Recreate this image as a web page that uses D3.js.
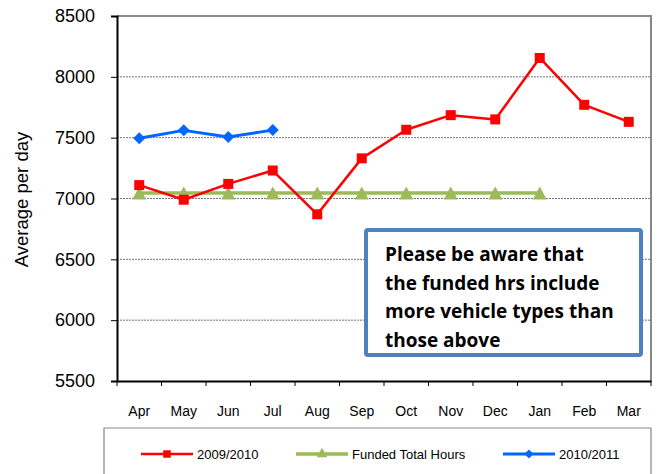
<!DOCTYPE html>
<html>
<head>
<meta charset="utf-8">
<script src="https://cdn.jsdelivr.net/npm/d3@7"></script>
<style>
  html, body { margin: 0; padding: 0; background: #fff; }
  svg { display: block; font-family: Arial, "Liberation Sans", sans-serif; }
</style>
</head>
<body>
<svg id="chart" width="658" height="474"></svg>
<script>
// Monthly average per day
const months = ["Apr", "May", "Jun", "Jul", "Aug", "Sep", "Oct", "Nov", "Dec", "Jan", "Feb", "Mar"];
const yTicks = [5500, 6000, 6500, 7000, 7500, 8000, 8500];
const series0910 = [7110, 6990, 7120, 7230, 6870, 7330, 7565, 7685, 7650, 8155, 7770, 7630];
const seriesFunded = [7045, 7045, 7045, 7045, 7045, 7045, 7045, 7045, 7045, 7045, null, null];
const series1011 = [7495, 7560, 7505, 7562, null, null, null, null, null, null, null, null];
const seriesNames = ["2009/2010", "Funded Total Hours", "2010/2011"];
const noteLines = ["Please be aware that", "the funded hrs include", "more vehicle types than", "those above"];

const svg = d3.select("#chart");
const plot = { left: 117, right: 651, top: 16, bottom: 381 };

const x = d3.scaleBand().domain(months).range([plot.left, plot.right]).padding(0);
const y = d3.scaleLinear().domain([5500, 8500]).range([plot.bottom, plot.top]);
const cx = m => x(m) + x.bandwidth() / 2;

// Marker shapes (w = full width)
const markerPath = {
  square: w => `M${-w / 2},${-w / 2}h${w}v${w}h${-w}Z`,
  diamond: w => `M0,${-w / 2}L${w / 2},0L0,${w / 2}L${-w / 2},0Z`,
  triangle: w => `M0,${-w * 0.46}L${w / 2},${w * 0.46}L${-w / 2},${w * 0.46}Z`
};

// Gridlines
svg.append("g").selectAll("line")
  .data(yTicks.filter(t => t > 5500 && t < 8500))
  .join("line")
  .attr("x1", plot.left).attr("x2", plot.right)
  .attr("y1", d => y(d)).attr("y2", d => y(d))
  .attr("stroke", "#777").attr("stroke-width", 1)
  .attr("stroke-dasharray", "2,1");

// Plot frame: grey top/right
svg.append("path")
  .attr("d", `M${plot.left},${plot.top}H${plot.right}V${plot.bottom}`)
  .attr("fill", "none").attr("stroke", "#888").attr("stroke-width", 2);

// Y axis
const yAxis = svg.append("g")
  .attr("transform", `translate(${plot.left},0)`)
  .call(d3.axisLeft(y).tickValues(yTicks).tickSize(6).tickPadding(16).tickFormat(d3.format("d")));
yAxis.select(".domain").attr("stroke", "#000").attr("stroke-width", 2);
yAxis.selectAll(".tick line").attr("stroke", "#000");
yAxis.selectAll("text").attr("font-size", 18).attr("fill", "#000");

// X axis: ticks at band boundaries
const xAxis = svg.append("g")
  .attr("transform", `translate(0,${plot.bottom})`)
  .call(d3.axisBottom(x).tickSize(0).tickPadding(25));
xAxis.select(".domain").attr("stroke", "#000").attr("stroke-width", 2);
xAxis.selectAll("text").attr("font-size", 14).attr("fill", "#000");
xAxis.append("g").selectAll("line")
  .data(months.map(m => x(m)).concat([plot.right]))
  .join("line")
  .attr("x1", d => d).attr("x2", d => d)
  .attr("y1", 0).attr("y2", 5)
  .attr("stroke", "#000");

// Y axis title
svg.append("text")
  .attr("transform", `translate(27.5,${(plot.top + plot.bottom) / 2 + 1}) rotate(-90)`)
  .attr("text-anchor", "middle")
  .attr("font-size", 18.5)
  .text("Average per day");

const line = d3.line()
  .x(d => cx(d.m)).y(d => y(d.v));
const pts = arr => months.map((m, i) => ({ m, v: arr[i] })).filter(d => d.v != null);

const styles = [
  { data: series0910, color: "#FF0000", width: 2.5, shape: "square", w: 10 },
  { data: seriesFunded, color: "#9BBB59", width: 3.5, shape: "triangle", w: 14 },
  { data: series1011, color: "#0066FF", width: 3, shape: "diamond", w: 12 }
];
// Draw order: funded, 2009/2010, 2010/2011
[1, 0, 2].forEach(i => {
  const s = styles[i];
  const g = svg.append("g");
  g.append("path")
    .datum(pts(s.data))
    .attr("d", line)
    .attr("fill", "none")
    .attr("stroke", s.color)
    .attr("stroke-width", s.width)
    .attr("stroke-linejoin", "round");
  g.selectAll("path.mark")
    .data(pts(s.data))
    .join("path")
    .attr("class", "mark")
    .attr("d", markerPath[s.shape](s.w))
    .attr("transform", d => `translate(${cx(d.m)},${y(d.v)})`)
    .attr("fill", s.color);
});

// Note box
const note = svg.append("g");
note.append("rect")
  .attr("x", 366).attr("y", 230).attr("width", 275).attr("height", 125)
  .attr("rx", 2)
  .attr("fill", "#fff").attr("stroke", "#4F81BD").attr("stroke-width", 4);
note.selectAll("text")
  .data(noteLines)
  .join("text")
  .attr("x", 385)
  .attr("y", (d, i) => 261 + i * 28.6)
  .attr("font-family", "'Open Sans', Lato, sans-serif")
  .attr("font-weight", "bold")
  .attr("font-size", 19)
  .attr("fill", "#000")
  .text(d => d);

// Legend
const legend = svg.append("g");
legend.append("path")
  .attr("d", "M104,474V428H651V474")
  .attr("fill", "#fff").attr("stroke", "#888").attr("stroke-width", 1.2);
const legendX = [141, 296, 503];
styles.forEach((s, i) => {
  const g = legend.append("g").attr("transform", `translate(${legendX[i]},454)`);
  g.append("line").attr("x1", 0).attr("x2", 52).attr("y1", 0).attr("y2", 0)
    .attr("stroke", s.color).attr("stroke-width", s.width);
  g.append("path")
    .attr("d", markerPath[s.shape](s.w * 0.75))
    .attr("transform", `translate(26,${s.shape === "triangle" ? -1.5 : 0})`)
    .attr("fill", s.color);
  g.append("text").attr("x", 56).attr("y", 4.5)
    .attr("font-size", 13).attr("fill", "#000")
    .text(seriesNames[i]);
});
</script>
</body>
</html>
